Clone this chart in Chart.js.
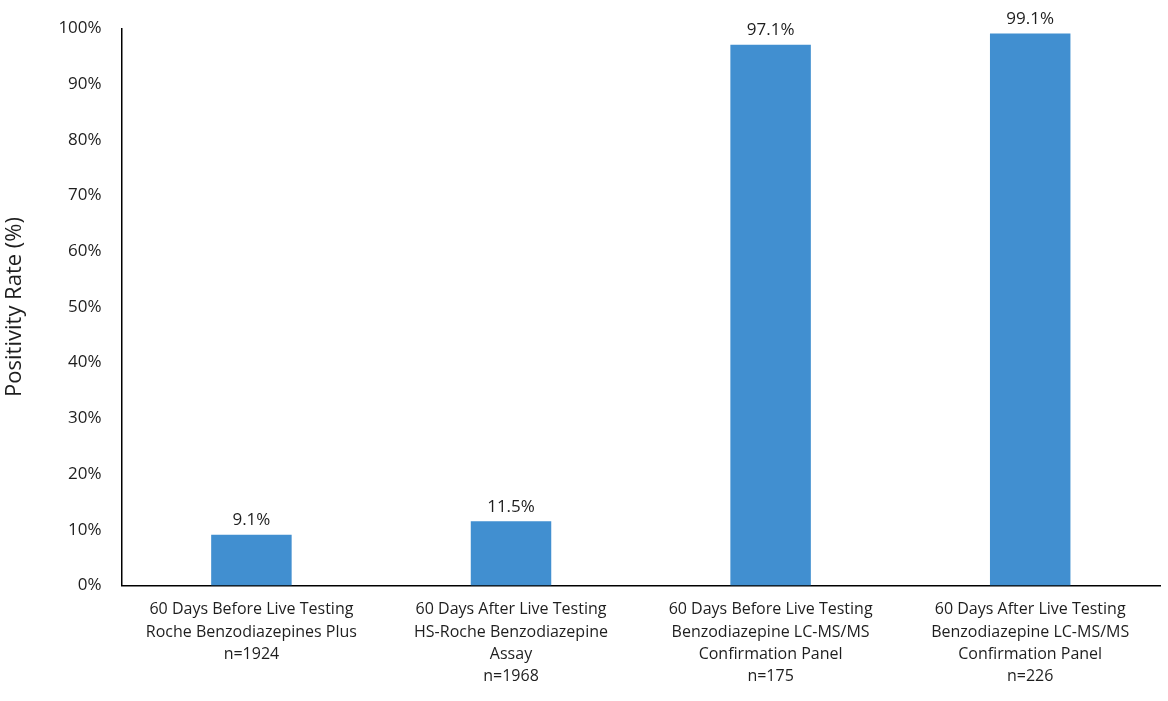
<!DOCTYPE html>
<html lang="en">
<head>
    <meta charset="UTF-8">
    <title>Positivity Rate</title>
    <style>
        html, body { margin: 0; padding: 0; background: #fff; }
        .chart-container { position: relative; width: 1168px; height: 701px; }
    </style>
</head>
<body>
    <div class="chart-container">
        <canvas id="barChart"></canvas>
    </div>

    <script src="https://cdn.jsdelivr.net/npm/chart.js"></script>
    <script>
        // Data
        const categories = [
            ['60 Days Before Live Testing', 'Roche Benzodiazepines Plus', 'n=1924'],
            ['60 Days After Live Testing', 'HS-Roche Benzodiazepine', 'Assay', 'n=1968'],
            ['60 Days Before Live Testing', 'Benzodiazepine LC-MS/MS', 'Confirmation Panel', 'n=175'],
            ['60 Days After Live Testing', 'Benzodiazepine LC-MS/MS', 'Confirmation Panel', 'n=226']
        ];
        const positivity = [9.1, 11.5, 97.1, 99.1];
        const yTicks = [0, 10, 20, 30, 40, 50, 60, 70, 80, 90, 100];

        const fontFamily = "'Open Sans', 'Liberation Sans', sans-serif";

        // Simple plugin to print the value above each bar
        const valueLabels = {
            id: 'valueLabels',
            afterDatasetsDraw(chart) {
                const ctx = chart.ctx;
                const meta = chart.getDatasetMeta(0);
                ctx.save();
                ctx.font = '17px ' + fontFamily;
                ctx.fillStyle = '#1e1e1e';
                ctx.textAlign = 'center';
                ctx.textBaseline = 'bottom';
                meta.data.forEach((bar, i) => {
                    ctx.fillText(positivity[i].toFixed(1) + '%', bar.x, bar.y - 6);
                });
                ctx.restore();
            }
        };

        const ctx = document.getElementById('barChart').getContext('2d');
        new Chart(ctx, {
            type: 'bar',
            data: {
                labels: categories,
                datasets: [{
                    label: 'Positivity Rate',
                    data: positivity,
                    backgroundColor: '#418fd0',
                    borderWidth: 0,
                    barPercentage: 0.62,
                    categoryPercentage: 0.5
                }]
            },
            options: {
                responsive: true,
                maintainAspectRatio: false,
                animation: false,
                layout: {
                    padding: { top: 14, right: 8, left: 2, bottom: 0 }
                },
                plugins: {
                    legend: { display: false },
                    tooltip: { enabled: false }
                },
                scales: {
                    x: {
                        grid: { display: false, drawTicks: false },
                        border: { display: true, color: '#000', width: 1.5 },
                        ticks: {
                            color: '#1e1e1e',
                            padding: 13,
                            maxRotation: 0,
                            autoSkip: false,
                            font: { family: fontFamily, size: 16, lineHeight: 1.4 }
                        }
                    },
                    y: {
                        min: 0,
                        max: 100,
                        afterBuildTicks(axis) {
                            axis.ticks = yTicks.map(v => ({ value: v }));
                        },
                        grid: { display: false, drawTicks: false },
                        border: { display: true, color: '#000', width: 1.5 },
                        ticks: {
                            color: '#1e1e1e',
                            padding: 20,
                            font: { family: fontFamily, size: 17, lineHeight: 1 },
                            callback: v => v + '%'
                        },
                        title: {
                            display: true,
                            text: 'Positivity Rate (%)',
                            color: '#1e1e1e',
                            padding: { top: 0, bottom: 10 },
                            font: { family: fontFamily, size: 22 }
                        }
                    }
                }
            },
            plugins: [valueLabels]
        });
    </script>
</body>
</html>
